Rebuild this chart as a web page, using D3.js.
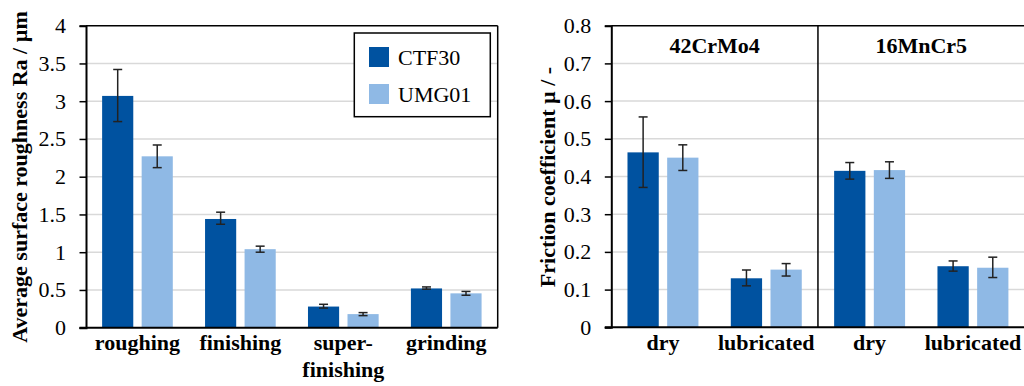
<!DOCTYPE html>
<html>
<head>
<meta charset="utf-8">
<script src="https://cdn.jsdelivr.net/npm/d3@7"></script>
<style>
  html, body { margin: 0; padding: 0; background: #fff; }
  svg { display: block; }
</style>
</head>
<body>
<svg id="chart" width="1024" height="386"></svg>
<script>
// ---------- DATA ----------
const series = ["CTF30", "UMG01"];
const seriesColors = ["#0052a0", "#8fb9e5"];

// Left chart: surface roughness
const roughCategories = ["roughing", "finishing", "super-finishing", "grinding"];
const roughLabels = [["roughing"], ["finishing"], ["super-", "finishing"], ["grinding"]];
const roughCTF30 = [3.07, 1.44, 0.28, 0.52];
const roughCTF30Lo = [2.73, 1.37, 0.26, 0.51];
const roughCTF30Hi = [3.42, 1.53, 0.31, 0.54];
const roughUMG01 = [2.27, 1.04, 0.18, 0.455];
const roughUMG01Lo = [2.12, 1.00, 0.16, 0.43];
const roughUMG01Hi = [2.42, 1.08, 0.20, 0.48];
const roughTicks = [0, 0.5, 1, 1.5, 2, 2.5, 3, 3.5, 4];
const roughTickLabels = ["0", "0.5", "1", "1.5", "2", "2.5", "3", "3.5", "4"];

// Right chart: friction coefficient
const materials = ["42CrMo4", "16MnCr5"];
const conditions = ["dry", "lubricated"];
const fricCTF30 = [0.464, 0.130, 0.415, 0.162];
const fricCTF30Lo = [0.371, 0.110, 0.393, 0.149];
const fricCTF30Hi = [0.558, 0.152, 0.437, 0.176];
const fricUMG01 = [0.450, 0.153, 0.417, 0.158];
const fricUMG01Lo = [0.416, 0.136, 0.395, 0.132];
const fricUMG01Hi = [0.484, 0.169, 0.439, 0.186];
const fricTicks = [0, 0.1, 0.2, 0.3, 0.4, 0.5, 0.6, 0.7, 0.8];
const fricTickLabels = ["0", "0.1", "0.2", "0.3", "0.4", "0.5", "0.6", "0.7", "0.8"];

// ---------- DRAW ----------
const FONT = "'Liberation Serif', 'Times New Roman', serif";
const svg = d3.select("#chart");
const FS = 22;

function drawPanel(opts) {
  const g = svg.append("g");
  const { x0, x1, yTop, yBot, yMax, keys, vals, los, his, ticks, tickLabels } = opts;
  const x = d3.scaleBand().domain(keys).range([x0, x1]);
  const xs = d3.scaleBand().domain(series).range([0, x.bandwidth()]).paddingInner(0.212).paddingOuter(0.408);
  const y = d3.scaleLinear().domain([0, yMax]).range([yBot, yTop]);

  // gridlines
  g.append("g").selectAll("line").data(ticks.filter(t => t > 0 && t < yMax)).join("line")
    .attr("x1", x0).attr("x2", x1)
    .attr("y1", d => y(d)).attr("y2", d => y(d))
    .attr("stroke", "#d9d9d9").attr("stroke-width", 1.5);

  // bars
  const rows = [];
  keys.forEach((k, i) => series.forEach((s, j) =>
    rows.push({ k, s, j, v: vals[j][i], lo: los[j][i], hi: his[j][i] })));
  g.append("g").selectAll("rect").data(rows).join("rect")
    .attr("x", d => x(d.k) + xs(d.s))
    .attr("width", xs.bandwidth())
    .attr("y", d => y(d.v))
    .attr("height", d => y(0) - y(d.v))
    .attr("fill", d => seriesColors[d.j]);

  // error bars
  const eb = g.append("g").attr("stroke", "#222").attr("stroke-width", 1.5);
  rows.forEach(d => {
    const cx = x(d.k) + xs(d.s) + xs.bandwidth() / 2;
    eb.append("line").attr("x1", cx).attr("x2", cx).attr("y1", y(d.hi)).attr("y2", y(d.lo));
    eb.append("line").attr("x1", cx - 4.5).attr("x2", cx + 4.5).attr("y1", y(d.hi)).attr("y2", y(d.hi));
    eb.append("line").attr("x1", cx - 4.5).attr("x2", cx + 4.5).attr("y1", y(d.lo)).attr("y2", y(d.lo));
  });

  // y axis
  const ya = g.append("g").attr("transform", `translate(${x0},0)`)
    .call(d3.axisLeft(y).tickValues(ticks).tickSize(6.5).tickPadding(13.5).tickFormat((d, i) => tickLabels[i]))
    .attr("font-family", FONT).attr("font-size", FS);
  ya.select(".domain").attr("stroke", "#000").attr("stroke-width", 2);
  ya.selectAll(".tick line").attr("stroke", "#000").attr("stroke-width", 1.5);
  ya.selectAll(".tick text").attr("fill", "#000");

  // top frame line and bottom axis line
  g.append("line").attr("x1", x0).attr("x2", x1).attr("y1", yTop).attr("y2", yTop)
    .attr("stroke", "#000").attr("stroke-width", 1.5);
  g.append("line").attr("x1", x0 - 6.5).attr("x2", x1).attr("y1", yBot).attr("y2", yBot)
    .attr("stroke", "#000").attr("stroke-width", 2);
  return { x, xs, y, g };
}

// Left panel
const L = drawPanel({
  x0: 86, x1: 497.7, yTop: 25.7, yBot: 327.7, yMax: 4,
  keys: roughCategories,
  vals: [roughCTF30, roughUMG01], los: [roughCTF30Lo, roughUMG01Lo], his: [roughCTF30Hi, roughUMG01Hi],
  ticks: roughTicks, tickLabels: roughTickLabels
});
L.g.append("line").attr("x1", 497.7).attr("x2", 497.7).attr("y1", 25.7).attr("y2", 327.7)
  .attr("stroke", "#000").attr("stroke-width", 1.5);
roughCategories.forEach((c, i) => {
  const t = L.g.append("text").attr("text-anchor", "middle").attr("font-weight", "bold")
    .attr("font-family", FONT).attr("font-size", FS);
  roughLabels[i].forEach((line, li) => {
    t.append("tspan").attr("x", L.x(c) + L.x.bandwidth() / 2).attr("y", 350 + li * 27).text(line);
  });
});
svg.append("text").attr("transform", "translate(26.5,177) rotate(-90)")
  .attr("text-anchor", "middle").attr("font-weight", "bold").attr("font-family", FONT).attr("font-size", FS)
  .text("Average surface roughness Ra / µm");

// Legend
const lg = svg.append("g");
lg.append("rect").attr("x", 354.3).attr("y", 33).attr("width", 136).attr("height", 83.7)
  .attr("fill", "#fff").attr("stroke", "#000").attr("stroke-width", 1.5);
series.forEach((s, i) => {
  lg.append("rect").attr("x", 369).attr("y", 47 + i * 37).attr("width", 20).attr("height", 20)
    .attr("fill", seriesColors[i]);
  lg.append("text").attr("x", 398).attr("y", 65 + i * 37).attr("font-family", FONT).attr("font-size", FS).text(s);
});

// Right panel
const fricKeys = [];
materials.forEach(m => conditions.forEach(c => fricKeys.push(m + "|" + c)));
const R = drawPanel({
  x0: 611.3, x1: 1024.6, yTop: 25.7, yBot: 327.3, yMax: 0.8,
  keys: fricKeys,
  vals: [fricCTF30, fricUMG01], los: [fricCTF30Lo, fricUMG01Lo], his: [fricCTF30Hi, fricUMG01Hi],
  ticks: fricTicks, tickLabels: fricTickLabels
});
const sepX = R.x(materials[1] + "|" + conditions[0]);
R.g.append("line").attr("x1", sepX).attr("x2", sepX).attr("y1", 25.7).attr("y2", 327.3)
  .attr("stroke", "#000").attr("stroke-width", 1.5);
materials.forEach(m => {
  const a = R.x(m + "|" + conditions[0]);
  const b = R.x(m + "|" + conditions[1]) + R.x.bandwidth();
  R.g.append("text").attr("x", (a + b) / 2).attr("y", 53.3).attr("text-anchor", "middle")
    .attr("font-weight", "bold").attr("font-family", FONT).attr("font-size", FS).text(m);
});
fricKeys.forEach(k => {
  R.g.append("text").attr("x", R.x(k) + R.x.bandwidth() / 2).attr("y", 350)
    .attr("text-anchor", "middle").attr("font-weight", "bold").attr("font-family", FONT).attr("font-size", FS)
    .text(k.split("|")[1]);
});
svg.append("text").attr("transform", "translate(554.5,177) rotate(-90)")
  .attr("text-anchor", "middle").attr("font-weight", "bold").attr("font-family", FONT).attr("font-size", FS)
  .text("Friction coefficient µ / -");
</script>
</body>
</html>
